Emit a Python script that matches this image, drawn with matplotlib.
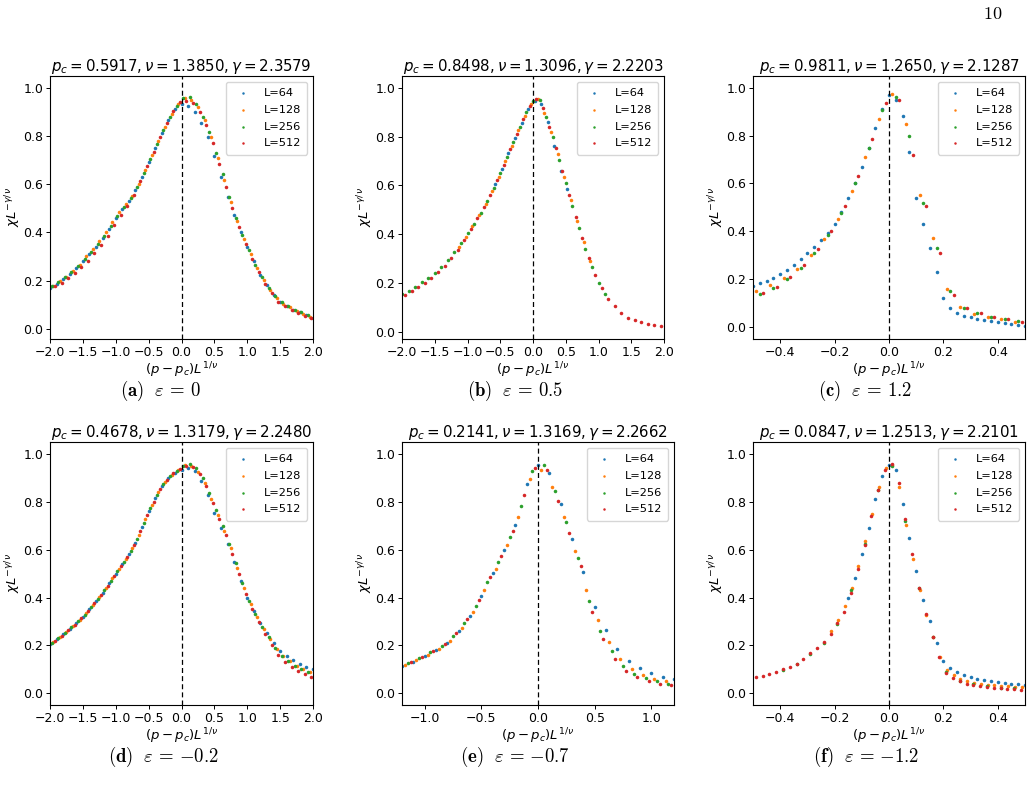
import matplotlib
matplotlib.use('Agg')
import matplotlib.pyplot as plt

series_labels = ['L=64', 'L=128', 'L=256', 'L=512']
series_colors = ['#1f77b4', '#ff7f0e', '#2ca02c', '#d62728']

titles = [r'$p_c = 0.5917, \nu = 1.3850, \gamma = 2.3579$',
          r'$p_c = 0.8498, \nu = 1.3096, \gamma = 2.2203$',
          r'$p_c = 0.9811, \nu = 1.2650, \gamma = 2.1287$',
          r'$p_c = 0.4678, \nu = 1.3179, \gamma = 2.2480$',
          r'$p_c = 0.2141, \nu = 1.3169, \gamma = 2.2662$',
          r'$p_c = 0.0847, \nu = 1.2513, \gamma = 2.2101$']
captions = [r'$\mathbf{(a)}\ \ \varepsilon\,=\,0$', r'$\mathbf{(b)}\ \ \varepsilon\,=\,0.5$',
            r'$\mathbf{(c)}\ \ \varepsilon\,=\,1.2$', r'$\mathbf{(d)}\ \ \varepsilon\,=\,{-0.2}$',
            r'$\mathbf{(e)}\ \ \varepsilon\,=\,{-0.7}$', r'$\mathbf{(f)}\ \ \varepsilon\,=\,{-1.2}$']

# ---------- shared sampling grids for panels (a) and (d) ----------
x_w64 = [-2.0, -1.9, -1.8, -1.7, -1.6, -1.5, -1.4, -1.3, -1.2, -1.1, -1.0, -0.9, -0.8, -0.7,
         -0.6, -0.5, -0.4, -0.3, -0.2, -0.1, 0.0, 0.1, 0.2, 0.3, 0.4, 0.5, 0.6, 0.7, 0.8, 0.9,
         1.0, 1.1, 1.2, 1.3, 1.4, 1.5, 1.6, 1.7, 1.8, 1.9, 2.0]
x_w128 = [-1.95, -1.85, -1.75, -1.65, -1.55, -1.45, -1.35, -1.25, -1.15, -1.05, -0.95, -0.85,
          -0.75, -0.65, -0.55, -0.45, -0.35, -0.25, -0.15, -0.05, 0.05, 0.15, 0.25, 0.35, 0.45,
          0.55, 0.65, 0.75, 0.85, 0.95, 1.05, 1.15, 1.25, 1.35, 1.45, 1.55, 1.65, 1.75, 1.85, 1.95]
x_w256 = [-1.975, -1.875, -1.775, -1.675, -1.575, -1.475, -1.375, -1.275, -1.175, -1.075, -0.975,
          -0.875, -0.775, -0.675, -0.575, -0.475, -0.375, -0.275, -0.175, -0.075, 0.025, 0.125,
          0.225, 0.325, 0.425, 0.525, 0.625, 0.725, 0.825, 0.925, 1.025, 1.125, 1.225, 1.325,
          1.425, 1.525, 1.625, 1.725, 1.825, 1.925]
x_w512 = [-1.925, -1.825, -1.725, -1.625, -1.525, -1.425, -1.325, -1.225, -1.125, -1.025, -0.925,
          -0.825, -0.725, -0.625, -0.525, -0.425, -0.325, -0.225, -0.125, -0.025, 0.075, 0.175,
          0.275, 0.375, 0.475, 0.575, 0.675, 0.775, 0.875, 0.975, 1.075, 1.175, 1.275, 1.375,
          1.475, 1.575, 1.675, 1.775, 1.875, 1.975]

# ---------- panel (a) ----------
ya64 = [.170, .188, .207, .228, .252, .280, .310, .340, .375, .415, .460, .495, .530, .575, .630,
        .690, .750, .810, .865, .910, .930, .925, .900, .855, .795, .715, .630, .545, .470, .400,
        .338, .280, .225, .180, .140, .110, .095, .080, .068, .056, .045]
ya128 = [.179, .197, .217, .240, .266, .300, .331, .363, .401, .443, .483, .517, .552, .602, .660,
         .720, .780, .838, .890, .932, .955, .950, .918, .865, .795, .708, .615, .525, .445, .374,
         .312, .254, .204, .162, .126, .103, .089, .075, .063, .051]
ya256 = [.178, .196, .215, .237, .262, .290, .320, .350, .385, .426, .469, .504, .541, .589, .645,
         .705, .765, .824, .878, .924, .955, .960, .930, .880, .815, .730, .640, .545, .461, .389,
         .325, .266, .215, .170, .135, .110, .095, .080, .068, .056]
ya512 = [.176, .192, .210, .230, .255, .283, .313, .346, .386, .430, .470, .508, .555, .612, .675,
         .735, .795, .852, .903, .940, .945, .935, .900, .845, .770, .683, .588, .500, .422, .352,
         .290, .235, .188, .147, .113, .094, .080, .066, .055, .044]

# ---------- panel (b) ----------
xb64 = [-0.575, -0.475, -0.375, -0.275, -0.175, -0.075, 0.025, 0.125, 0.225, 0.325, 0.425, 0.525]
yb64 = [.605, .667, .731, .794, .855, .912, .946, .932, .860, .760, .660, .586]
xb128 = [-1.125, -1.025, -0.925, -0.825, -0.725, -0.625, -0.525, -0.425, -0.325, -0.225, -0.125,
         -0.025, 0.075, 0.175, 0.275, 0.375, 0.475, 0.575, 0.675, 0.775, 0.875]
yb128 = [.349, .389, .432, .477, .523, .576, .635, .699, .762, .825, .885, .934, .952, .897, .820,
         .729, .634, .539, .455, .368, .288]
xb256 = [-2.0, -1.9, -1.8, -1.7, -1.6, -1.5, -1.4, -1.3, -1.2, -1.1, -1.0, -0.9, -0.8, -0.7, -0.6,
         -0.5, -0.4, -0.3, -0.2, -0.1, 0.0, 0.1, 0.2, 0.3, 0.4, 0.5, 0.6, 0.7, 0.8, 0.9, 1.0, 1.1]
yb256 = [.154, .168, .184, .202, .221, .242, .267, .295, .327, .363, .404, .443, .488, .535, .590,
         .650, .715, .778, .840, .900, .945, .950, .880, .800, .705, .610, .515, .425, .340, .265,
         .200, .155]
yb512 = [.152, .166, .183, .201, .221, .244, .271, .301, .335, .374, .421, .465, .511, .562, .620,
         .683, .747, .809, .870, .925, .955, .915, .840, .752, .657, .562, .470, .382, .302, .232,
         .177, .136, .104, .078, .058, .046, .038, .032, .028, .024]

# ---------- panel (c) ----------
xc64 = [-0.5, -0.475, -0.45, -0.425, -0.4, -0.375, -0.35, -0.325, -0.3, -0.275, -0.25, -0.225,
        -0.2, -0.175, -0.15, -0.125, -0.1, -0.075, -0.05, -0.025, 0.0, 0.025, 0.05, 0.075, 0.1,
        0.125, 0.15, 0.175, 0.2, 0.225, 0.25, 0.275, 0.3, 0.325, 0.35, 0.375, 0.4, 0.425, 0.45,
        0.475, 0.5]
yc64 = [.172, .182, .193, .205, .220, .237, .258, .283, .310, .335, .362, .395, .430, .480, .540,
        .600, .670, .750, .830, .910, .970, .950, .880, .730, .540, .430, .330, .230, .120, .080,
        .060, .048, .040, .034, .029, .025, .020, .016, .012, .008, .004]
xc128 = [-0.4875, -0.4375, -0.3875, -0.3375, -0.2875, -0.2375, -0.1875, -0.1375, -0.0875, -0.0375,
         0.0125, 0.0625, 0.1125, 0.1625, 0.2125, 0.2625, 0.3125, 0.3625, 0.4125, 0.4625]
yc128 = [.152, .174, .203, .244, .300, .368, .452, .570, .710, .870, .975, .850, .550, .370, .160,
         .085, .056, .042, .032, .022]
xc256 = [-0.475, -0.425, -0.375, -0.325, -0.275, -0.225, -0.175, -0.125, -0.075, -0.025, 0.025,
         0.075, 0.125, 0.175, 0.225, 0.275, 0.325, 0.375, 0.425, 0.475]
yc256 = [.140, .164, .200, .248, .310, .385, .478, .600, .750, .905, .960, .800, .520, .330, .150,
         .080, .057, .044, .033, .024]
xc512 = [-0.4625, -0.4125, -0.3625, -0.3125, -0.2625, -0.2125, -0.1625, -0.1125, -0.0625, -0.0125,
         0.0375, 0.0875, 0.1375, 0.1875, 0.2375, 0.2875, 0.3375, 0.3875, 0.4375, 0.4875]
yc512 = [.142, .168, .208, .260, .325, .402, .505, .632, .786, .935, .950, .720, .505, .310, .135,
         .078, .057, .043, .032, .022]

# ---------- panel (d) ----------
yd64 = [.205, .225, .246, .268, .293, .320, .352, .385, .420, .460, .500, .540, .580, .630, .695,
        .760, .815, .865, .900, .920, .935, .940, .930, .885, .830, .755, .690, .625, .550, .470,
        .398, .345, .292, .252, .212, .175, .155, .137, .122, .110, .100]
yd128 = [.215, .236, .257, .281, .307, .336, .369, .403, .440, .480, .520, .560, .605, .663, .728,
         .788, .840, .883, .913, .933, .955, .950, .925, .878, .812, .745, .680, .605, .525, .440,
         .375, .320, .270, .228, .186, .156, .134, .116, .101, .089]
yd256 = [.210, .231, .252, .275, .300, .328, .360, .394, .430, .470, .510, .550, .593, .646, .711,
         .774, .828, .874, .906, .930, .950, .958, .940, .898, .838, .765, .698, .625, .544, .460,
         .386, .331, .279, .234, .190, .155, .133, .114, .100, .087]
yd512 = [.220, .241, .263, .287, .313, .344, .377, .411, .450, .490, .530, .570, .618, .679, .744,
         .801, .853, .891, .919, .936, .950, .946, .918, .866, .795, .728, .660, .582, .498, .416,
         .352, .297, .249, .202, .160, .132, .110, .094, .080, .068]

# ---------- panel (e) ----------
xe64 = [-1.2, -1.1, -1.0, -0.9, -0.8, -0.7, -0.6, -0.5, -0.4, -0.3, -0.2, -0.1, 0.0, 0.1, 0.2,
        0.3, 0.4, 0.5, 0.6, 0.7, 0.8, 0.9, 1.0, 1.1, 1.2]
ye64 = [.113, .132, .155, .181, .210, .260, .323, .408, .503, .598, .703, .873, .955, .920, .790,
        .645, .505, .360, .265, .185, .135, .105, .085, .070, .060]
xe128 = [-1.175, -1.075, -0.975, -0.875, -0.775, -0.675, -0.575, -0.475, -0.375, -0.275, -0.175,
         -0.075, 0.025, 0.125, 0.225, 0.325, 0.425, 0.525, 0.625, 0.725, 0.825, 0.925, 1.025, 1.125]
ye128 = [.117, .137, .160, .186, .220, .273, .340, .430, .520, .620, .735, .895, .935, .860, .735,
         .595, .430, .305, .215, .145, .102, .075, .060, .050]
xe256 = [-1.15, -1.05, -0.95, -0.85, -0.75, -0.65, -0.55, -0.45, -0.35, -0.25, -0.15, -0.05, 0.05,
         0.15, 0.25, 0.35, 0.45, 0.55, 0.65, 0.75, 0.85, 0.95, 1.05, 1.15]
ye256 = [.126, .147, .172, .198, .238, .295, .365, .463, .548, .653, .783, .930, .955, .845, .715,
         .565, .385, .260, .175, .115, .080, .062, .050, .040]
xe512 = [-1.125, -1.025, -0.925, -0.825, -0.725, -0.625, -0.525, -0.425, -0.325, -0.225, -0.125,
         -0.025, 0.075, 0.175, 0.275, 0.375, 0.475, 0.575, 0.675, 0.775, 0.875, 0.975, 1.075, 1.175]
ye512 = [.131, .153, .178, .205, .250, .310, .388, .485, .575, .680, .830, .940, .935, .805, .670,
         .530, .340, .225, .145, .095, .066, .050, .040, .033]

# ---------- panel (f) ----------
xf64 = [-0.15, -0.125, -0.1, -0.075, -0.05, -0.025, 0.0, 0.025, 0.05, 0.075, 0.1, 0.125, 0.15,
        0.175, 0.2, 0.225, 0.25, 0.275, 0.3, 0.325, 0.35, 0.375, 0.4, 0.425, 0.45, 0.475, 0.5]
yf64 = [.400, .480, .580, .690, .810, .910, .955, .935, .790, .650, .510, .390, .300, .210, .135,
        .105, .088, .076, .066, .061, .056, .051, .046, .043, .040, .037, .035]
xf128 = [-0.2125, -0.1875, -0.1625, -0.1375, -0.1125, -0.0875, -0.0625, -0.0375, -0.0125, 0.0125,
         0.0375, 0.0625, 0.0875, 0.1125, 0.1375, 0.1625, 0.1875, 0.2125, 0.2375, 0.2625, 0.2875,
         0.3125, 0.3375, 0.3625, 0.3875, 0.4125, 0.4375, 0.4625, 0.4875]
yf128 = [.260, .305, .365, .440, .530, .635, .750, .860, .940, .955, .860, .705, .560, .430, .325,
         .235, .150, .098, .075, .060, .051, .045, .040, .036, .033, .031, .029, .027, .025]
xf256 = [-0.39, -0.34, -0.29, -0.24, -0.19, -0.14, -0.09, -0.04, 0.01, 0.06, 0.11, 0.16, 0.21,
         0.26, 0.31, 0.36, 0.41, 0.46]
yf256 = [.098, .122, .165, .212, .288, .430, .625, .850, .950, .720, .440, .235, .090, .052, .038,
         .031, .024, .020]
xf512 = [-0.49, -0.465, -0.44, -0.415, -0.39, -0.365, -0.34, -0.315, -0.29, -0.265, -0.24, -0.215,
         -0.19, -0.165, -0.14, -0.115, -0.09, -0.065, -0.04, -0.015, 0.01, 0.035, 0.06, 0.085, 0.11,
         0.135, 0.16, 0.185, 0.21, 0.235, 0.26, 0.285, 0.31, 0.335, 0.36, 0.385, 0.41, 0.435, 0.46,
         0.485]
yf512 = [.067, .073, .080, .089, .100, .110, .124, .142, .168, .190, .215, .248, .292, .340, .420,
         .520, .620, .740, .850, .935, .960, .880, .730, .580, .440, .330, .235, .150, .085, .063,
         .050, .040, .034, .029, .025, .022, .020, .018, .016, .014]

panels = [
    [(x_w64, ya64), (x_w128, ya128), (x_w256, ya256), (x_w512, ya512)],
    [(xb64, yb64), (xb128, yb128), (xb256, yb256), (x_w128, yb512)],
    [(xc64, yc64), (xc128, yc128), (xc256, yc256), (xc512, yc512)],
    [(x_w64, yd64), (x_w128, yd128), (x_w256, yd256), (x_w512, yd512)],
    [(xe64, ye64), (xe128, ye128), (xe256, ye256), (xe512, ye512)],
    [(xf64, yf64), (xf128, yf128), (xf256, yf256), (xf512, yf512)],
]

xlims = [(-2, 2), (-2, 2), (-0.5, 0.5), (-2, 2), (-1.2, 1.2), (-0.5, 0.5)]
xticks = [[-2.0, -1.5, -1.0, -0.5, 0.0, 0.5, 1.0, 1.5, 2.0],
          [-2.0, -1.5, -1.0, -0.5, 0.0, 0.5, 1.0, 1.5, 2.0],
          [-0.4, -0.2, 0.0, 0.2, 0.4],
          [-2.0, -1.5, -1.0, -0.5, 0.0, 0.5, 1.0, 1.5, 2.0],
          [-1.0, -0.5, 0.0, 0.5, 1.0],
          [-0.4, -0.2, 0.0, 0.2, 0.4]]
ylims = [(-0.042, 1.048), (-0.030, 1.048), (-0.050, 1.049),
         (-0.049, 1.050), (-0.049, 1.050), (-0.049, 1.050)]

W, H = 1032, 791
# axes boxes in pixels: left, top, width, height
boxes = [(50, 76, 263, 263), (402, 76, 262, 263), (753, 76, 272, 263),
         (50, 442, 263, 263), (402, 442, 272, 263), (753, 442, 272, 263)]
cap_pos = [(160, 391), (515, 391), (865, 391), (163, 757), (515, 757), (866, 757)]

plt.rcParams['axes.linewidth'] = 0.8

fig = plt.figure(figsize=(W / 100, H / 100), dpi=100)

for i in range(6):
    l, t, w, h = boxes[i]
    ax = fig.add_axes([l / W, 1 - (t + h) / H, w / W, h / H])
    for (xs, ys), lab, col in zip(panels[i], series_labels, series_colors):
        ax.scatter(xs, ys, s=6.5, color=col, label=lab, linewidths=0, marker='o')
    ax.axvline(0, color='black', ls='--', lw=0.9, dashes=(4, 2.5))
    ax.set_xlim(*xlims[i])
    ax.set_ylim(*ylims[i])
    ax.set_xticks(xticks[i])
    ax.set_yticks([0.0, 0.2, 0.4, 0.6, 0.8, 1.0])
    ax.tick_params(labelsize=9, length=3, width=0.7, pad=2)
    ax.set_title(titles[i], fontsize=10.8, pad=3)
    ax.set_xlabel(r'$(p-p_c)L^{1/\nu}$', fontsize=9.5, labelpad=1)
    ax.set_ylabel(r'$\chi L^{-\gamma/\nu}$', fontsize=9.5, labelpad=0)
    ax.legend(loc='upper right', fontsize=8.2, markerscale=0.7, scatterpoints=1,
              handletextpad=0.8, borderpad=0.55, labelspacing=0.6, framealpha=0.8)
    cx, cy = cap_pos[i]
    fig.text(cx / W, 1 - cy / H, captions[i], ha='center', va='center', fontsize=13.5,
             math_fontfamily='cm')

fig.text(993 / W, 1 - 14 / H, r'$10$', ha='center', va='center', fontsize=13,
         math_fontfamily='cm')

fig.savefig('out.png', dpi=100)
